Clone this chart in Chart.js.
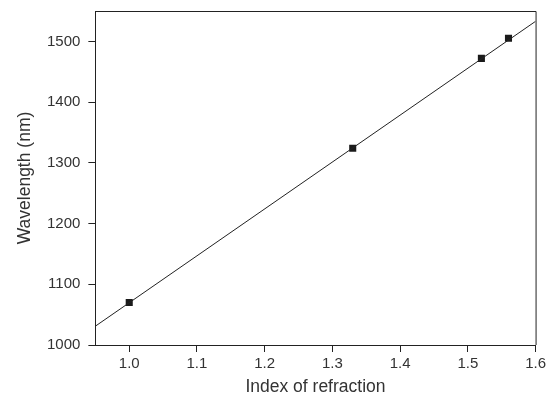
<!DOCTYPE html>
<html>
<head>
<meta charset="utf-8">
<script src="https://cdn.jsdelivr.net/npm/chart.js@4.4.1/dist/chart.umd.min.js"></script>
<style>
  html, body { margin: 0; padding: 0; background: #fff; }
  #wrap { width: 549px; height: 400px; }
</style>
</head>
<body>
<div id="wrap"><canvas id="chart" width="549" height="400"></canvas></div>
<script>
// measured points
const refractiveIndex = [1.0, 1.33, 1.52, 1.56];
const wavelength = [1070, 1324, 1472, 1505];
// linear fit, drawn across the whole x range
const fitX = [0.95, 1.6];
const fitY = [1031, 1533];
// tick labels
const xTicks = [1.0, 1.1, 1.2, 1.3, 1.4, 1.5, 1.6];
const yTicks = [1000, 1100, 1200, 1300, 1400, 1500];

const axisColor = '#222';
const textColor = '#333';
const fontFamily = '"Liberation Sans", Arial, sans-serif';

// top and right edge of the frame
const framePlugin = {
    id: 'frame',
    afterDraw(chart) {
        const a = chart.chartArea;
        const c = chart.ctx;
        c.save();
        c.strokeStyle = axisColor;
        c.lineWidth = 1;
        c.beginPath();
        c.moveTo(a.left, a.top + 0.5);
        c.lineTo(a.right + 0.5, a.top + 0.5);
        c.lineTo(a.right + 0.5, a.bottom);
        c.stroke();
        c.restore();
    }
};

let ctx = document.getElementById('chart').getContext('2d');
const chart = new Chart(ctx, {
    type: 'scatter',
    data: {
        datasets: [{
            label: 'fit',
            data: fitX.map((x, i) => ({ x: x, y: fitY[i] })),
            showLine: true,
            borderColor: '#222',
            borderWidth: 1,
            pointRadius: 0,
            fill: false
        }, {
            label: 'measured',
            data: refractiveIndex.map((x, i) => ({ x: x, y: wavelength[i] })),
            pointStyle: 'rect',
            pointRadius: 5,
            backgroundColor: '#1a1a1a',
            borderColor: '#1a1a1a',
            borderWidth: 0
        }]
    },
    options: {
        responsive: false,
        animation: false,
        layout: { padding: { top: 11, right: 4, left: 15, bottom: 2 } },
        plugins: {
            legend: { display: false },
            tooltip: { enabled: false }
        },
        scales: {
            x: {
                type: 'linear',
                min: 0.95,
                max: 1.6,
                afterBuildTicks: (axis) => { axis.ticks = xTicks.map(v => ({ value: v })); },
                grid: { drawOnChartArea: false, drawTicks: true, tickLength: 7, color: axisColor },
                border: { display: true, color: axisColor, width: 1 },
                ticks: {
                    color: textColor,
                    font: { family: fontFamily, size: 15 },
                    padding: 3,
                    maxRotation: 0,
                    callback: (v) => Number(v).toFixed(1)
                },
                title: {
                    display: true,
                    text: 'Index of refraction',
                    color: textColor,
                    font: { family: fontFamily, size: 17.5 },
                    padding: { top: 1, bottom: 0 }
                }
            },
            y: {
                type: 'linear',
                min: 1000,
                max: 1550,
                afterBuildTicks: (axis) => { axis.ticks = yTicks.map(v => ({ value: v })); },
                // top tick sits below the frame, no room needed for its label
                afterFit: (axis) => { axis.paddingTop = 0; },
                grid: { drawOnChartArea: false, drawTicks: true, tickLength: 7, color: axisColor },
                border: { display: true, color: axisColor, width: 1 },
                ticks: {
                    color: textColor,
                    font: { family: fontFamily, size: 15 },
                    padding: 8,
                    callback: (v) => String(v)
                },
                title: {
                    display: true,
                    text: 'Wavelength (nm)',
                    color: textColor,
                    font: { family: fontFamily, size: 17.5 },
                    padding: { top: 0, bottom: 3 }
                }
            }
        }
    },
    plugins: [framePlugin]
});
</script>
</body>
</html>
